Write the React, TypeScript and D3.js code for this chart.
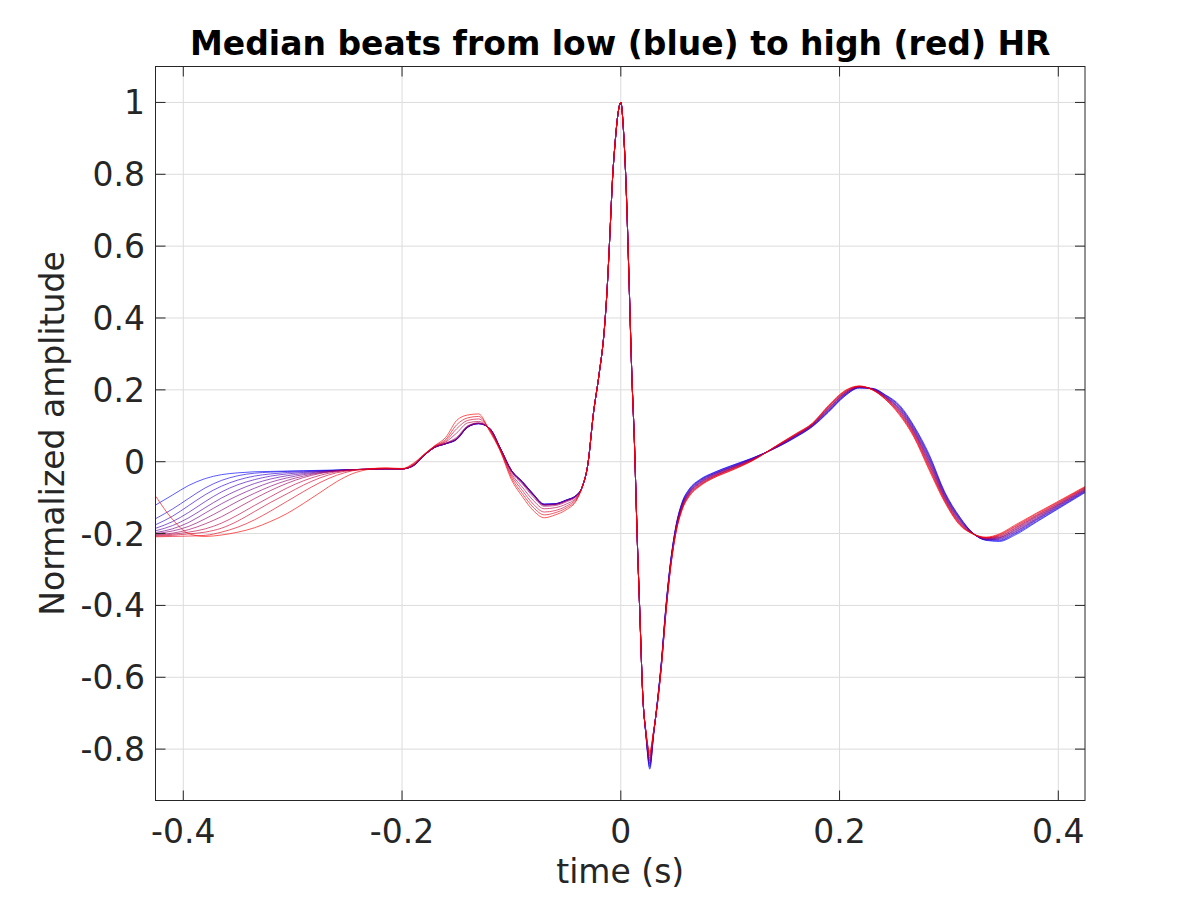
import React, { useEffect, useRef } from "react";
import * as d3 from "d3";

// time grid (s) of each part of the beat
const leadTimes = [-0.425, -0.41, -0.395, -0.38, -0.365, -0.35, -0.335, -0.32, -0.305, -0.29, -0.275, -0.26, -0.245, -0.23, -0.215, -0.2];
const pTimes = [-0.19, -0.18, -0.17, -0.16, -0.15, -0.14, -0.13, -0.12, -0.11, -0.1, -0.09, -0.08, -0.07, -0.06, -0.05, -0.04];
const qrsTimes = [-0.035, -0.03, -0.025, -0.02, -0.015, -0.0125, -0.01, -0.0075, -0.005, -0.0025, 0, 0.0025, 0.005, 0.0075, 0.01, 0.0125, 0.015, 0.0175, 0.02];
const sTimes = [0.023, 0.0265, 0.03];
const tailTimes = [0.0335, 0.037, 0.041, 0.045, 0.05, 0.056, 0.0625, 0.072, 0.085, 0.1, 0.12, 0.145, 0.16, 0.175, 0.19, 0.205, 0.218, 0.23, 0.242, 0.255, 0.268, 0.282, 0.296, 0.31, 0.322, 0.334, 0.346, 0.36, 0.38, 0.4, 0.425];

// one row per HR bin, low HR (blue) first, high HR (red) last
const leadBeats = [
  [-0.120, -0.093, -0.066, -0.047, -0.036, -0.031, -0.028, -0.027, -0.026, -0.025, -0.024, -0.023, -0.022, -0.021, -0.020, -0.020],
  [-0.158, -0.132, -0.102, -0.073, -0.052, -0.039, -0.032, -0.029, -0.027, -0.026, -0.025, -0.024, -0.022, -0.021, -0.020, -0.020],
  [-0.175, -0.152, -0.122, -0.092, -0.068, -0.051, -0.040, -0.034, -0.030, -0.028, -0.026, -0.024, -0.022, -0.021, -0.020, -0.020],
  [-0.185, -0.167, -0.141, -0.111, -0.084, -0.064, -0.050, -0.040, -0.034, -0.030, -0.027, -0.024, -0.022, -0.021, -0.020, -0.020],
  [-0.192, -0.178, -0.156, -0.128, -0.101, -0.079, -0.061, -0.048, -0.039, -0.033, -0.028, -0.025, -0.022, -0.021, -0.020, -0.020],
  [-0.197, -0.187, -0.169, -0.143, -0.117, -0.094, -0.074, -0.057, -0.045, -0.036, -0.030, -0.025, -0.022, -0.021, -0.020, -0.020],
  [-0.200, -0.193, -0.180, -0.159, -0.135, -0.110, -0.088, -0.068, -0.052, -0.040, -0.031, -0.026, -0.022, -0.021, -0.020, -0.020],
  [-0.203, -0.199, -0.189, -0.173, -0.153, -0.128, -0.103, -0.080, -0.060, -0.044, -0.033, -0.026, -0.022, -0.021, -0.020, -0.020],
  [-0.205, -0.202, -0.196, -0.187, -0.171, -0.148, -0.122, -0.097, -0.073, -0.053, -0.038, -0.028, -0.023, -0.021, -0.020, -0.020],
  [-0.207, -0.205, -0.201, -0.196, -0.185, -0.165, -0.139, -0.113, -0.089, -0.065, -0.045, -0.031, -0.024, -0.021, -0.019, -0.020],
  [-0.209, -0.208, -0.207, -0.205, -0.196, -0.182, -0.162, -0.137, -0.110, -0.083, -0.058, -0.038, -0.025, -0.019, -0.018, -0.020],
  [-0.097, -0.160, -0.200, -0.208, -0.204, -0.196, -0.184, -0.166, -0.144, -0.116, -0.086, -0.056, -0.033, -0.021, -0.017, -0.019],
];

const pBeats = [
  [-0.012, 0.017, 0.040, 0.050, 0.062, 0.096, 0.106, 0.093, 0.037, -0.024, -0.055, -0.090, -0.118, -0.117, -0.107, -0.092],
  [-0.012, 0.017, 0.040, 0.050, 0.062, 0.096, 0.106, 0.093, 0.037, -0.024, -0.055, -0.090, -0.118, -0.117, -0.107, -0.092],
  [-0.012, 0.017, 0.040, 0.050, 0.062, 0.096, 0.106, 0.093, 0.037, -0.024, -0.056, -0.091, -0.119, -0.117, -0.107, -0.092],
  [-0.012, 0.017, 0.040, 0.050, 0.063, 0.097, 0.106, 0.093, 0.036, -0.025, -0.057, -0.092, -0.119, -0.118, -0.108, -0.092],
  [-0.012, 0.017, 0.040, 0.050, 0.063, 0.097, 0.106, 0.093, 0.036, -0.025, -0.057, -0.092, -0.120, -0.118, -0.108, -0.093],
  [-0.011, 0.017, 0.040, 0.051, 0.064, 0.098, 0.107, 0.093, 0.036, -0.026, -0.058, -0.093, -0.120, -0.119, -0.109, -0.093],
  [-0.011, 0.018, 0.041, 0.051, 0.065, 0.098, 0.107, 0.092, 0.035, -0.026, -0.059, -0.094, -0.121, -0.119, -0.109, -0.094],
  [-0.011, 0.018, 0.041, 0.052, 0.068, 0.100, 0.108, 0.092, 0.035, -0.028, -0.062, -0.098, -0.124, -0.122, -0.112, -0.095],
  [-0.010, 0.018, 0.042, 0.055, 0.080, 0.108, 0.112, 0.090, 0.033, -0.033, -0.071, -0.108, -0.131, -0.128, -0.118, -0.098],
  [-0.009, 0.019, 0.043, 0.058, 0.092, 0.115, 0.119, 0.089, 0.031, -0.038, -0.080, -0.118, -0.140, -0.136, -0.124, -0.100],
  [-0.007, 0.020, 0.044, 0.062, 0.103, 0.122, 0.126, 0.088, 0.030, -0.044, -0.089, -0.127, -0.148, -0.142, -0.129, -0.103],
  [-0.005, 0.020, 0.045, 0.068, 0.115, 0.130, 0.133, 0.085, 0.028, -0.050, -0.097, -0.136, -0.156, -0.148, -0.134, -0.105],
];

// R wave is the same for every bin (normalised to the peak)
const qrsValues = [-0.068, -0.005, 0.135, 0.24, 0.37, 0.48, 0.63, 0.79, 0.895, 0.97, 1.0, 0.92, 0.755, 0.51, 0.25, 0.05, -0.21, -0.43, -0.645];

const sBeats = [
  [-0.762, -0.856, -0.760],
  [-0.761, -0.851, -0.759],
  [-0.760, -0.847, -0.758],
  [-0.759, -0.842, -0.757],
  [-0.758, -0.838, -0.756],
  [-0.757, -0.833, -0.755],
  [-0.756, -0.829, -0.754],
  [-0.755, -0.824, -0.753],
  [-0.754, -0.819, -0.752],
  [-0.753, -0.815, -0.751],
  [-0.752, -0.810, -0.750],
  [-0.751, -0.806, -0.749],
];

const tailBeats = [
  [-0.665, -0.560, -0.410, -0.290, -0.185, -0.113, -0.076, -0.050, -0.030, -0.012, 0.010, 0.043, 0.068, 0.097, 0.138, 0.183, 0.205, 0.204, 0.186, 0.157, 0.100, 0.020, -0.083, -0.154, -0.199, -0.219, -0.222, -0.205, -0.168, -0.131, -0.085],
  [-0.666, -0.561, -0.412, -0.292, -0.187, -0.115, -0.078, -0.052, -0.031, -0.013, 0.009, 0.044, 0.069, 0.098, 0.140, 0.184, 0.206, 0.204, 0.185, 0.154, 0.097, 0.016, -0.086, -0.156, -0.199, -0.218, -0.220, -0.202, -0.166, -0.129, -0.083],
  [-0.667, -0.563, -0.414, -0.294, -0.189, -0.117, -0.080, -0.053, -0.033, -0.015, 0.009, 0.044, 0.070, 0.099, 0.141, 0.186, 0.206, 0.203, 0.184, 0.152, 0.094, 0.012, -0.088, -0.158, -0.199, -0.217, -0.218, -0.200, -0.163, -0.127, -0.082],
  [-0.668, -0.564, -0.415, -0.295, -0.190, -0.119, -0.082, -0.055, -0.034, -0.016, 0.008, 0.045, 0.071, 0.100, 0.143, 0.187, 0.207, 0.203, 0.182, 0.149, 0.091, 0.008, -0.091, -0.160, -0.200, -0.217, -0.216, -0.197, -0.161, -0.125, -0.080],
  [-0.669, -0.565, -0.417, -0.297, -0.192, -0.121, -0.084, -0.057, -0.035, -0.017, 0.007, 0.046, 0.072, 0.101, 0.145, 0.188, 0.207, 0.203, 0.181, 0.147, 0.088, 0.004, -0.094, -0.162, -0.200, -0.216, -0.214, -0.195, -0.159, -0.123, -0.079],
  [-0.670, -0.567, -0.419, -0.299, -0.194, -0.123, -0.086, -0.059, -0.037, -0.018, 0.006, 0.046, 0.073, 0.102, 0.147, 0.190, 0.208, 0.202, 0.180, 0.144, 0.085, 0.000, -0.096, -0.164, -0.200, -0.215, -0.212, -0.192, -0.157, -0.121, -0.077],
  [-0.670, -0.568, -0.421, -0.301, -0.196, -0.125, -0.087, -0.060, -0.038, -0.020, 0.006, 0.047, 0.073, 0.102, 0.148, 0.191, 0.208, 0.202, 0.179, 0.142, 0.083, -0.004, -0.099, -0.167, -0.200, -0.214, -0.211, -0.190, -0.154, -0.120, -0.076],
  [-0.671, -0.570, -0.423, -0.303, -0.198, -0.127, -0.089, -0.062, -0.040, -0.021, 0.005, 0.047, 0.074, 0.103, 0.150, 0.192, 0.209, 0.201, 0.178, 0.139, 0.080, -0.008, -0.101, -0.169, -0.200, -0.213, -0.209, -0.187, -0.152, -0.118, -0.074],
  [-0.672, -0.571, -0.425, -0.305, -0.200, -0.129, -0.091, -0.064, -0.041, -0.022, 0.004, 0.048, 0.075, 0.104, 0.152, 0.194, 0.209, 0.201, 0.177, 0.137, 0.077, -0.012, -0.104, -0.171, -0.201, -0.212, -0.207, -0.185, -0.150, -0.116, -0.073],
  [-0.673, -0.572, -0.426, -0.306, -0.201, -0.131, -0.093, -0.066, -0.042, -0.023, 0.003, 0.049, 0.076, 0.105, 0.154, 0.195, 0.210, 0.201, 0.175, 0.134, 0.074, -0.016, -0.107, -0.173, -0.201, -0.212, -0.205, -0.182, -0.148, -0.114, -0.071],
  [-0.674, -0.574, -0.428, -0.308, -0.203, -0.133, -0.095, -0.067, -0.044, -0.025, 0.003, 0.049, 0.077, 0.106, 0.155, 0.197, 0.210, 0.200, 0.174, 0.132, 0.071, -0.020, -0.109, -0.175, -0.201, -0.211, -0.203, -0.180, -0.145, -0.112, -0.070],
  [-0.675, -0.575, -0.430, -0.310, -0.205, -0.135, -0.097, -0.069, -0.045, -0.026, 0.002, 0.050, 0.078, 0.107, 0.157, 0.198, 0.211, 0.200, 0.173, 0.129, 0.068, -0.024, -0.112, -0.177, -0.201, -0.210, -0.201, -0.177, -0.143, -0.110, -0.068],
];

const xTicks = [-0.4, -0.2, 0, 0.2, 0.4];
const yTicks = [-0.8, -0.6, -0.4, -0.2, 0, 0.2, 0.4, 0.6, 0.8, 1];

function App() {
  const ref = useRef(null);

  useEffect(() => {
    const width = 1200;
    const height = 900;
    const left = 155.5;
    const right = 1085;
    const top = 66.5;
    const bottom = 800.5;
    const ink = "#262626";
    const font = "DejaVu Sans, sans-serif";

    d3.select(ref.current).select("svg").remove();

    const svg = d3
      .select(ref.current)
      .append("svg")
      .attr("width", width)
      .attr("height", height)
      .style("position", "absolute")
      .style("left", 0)
      .style("top", 0)
      .style("background", "#fff")
      .style("font-family", font);

    const x = d3.scaleLinear().domain([-0.4254, 0.4244]).range([left, right]);
    const y = d3.scaleLinear().domain([-0.943, 1.1]).range([bottom, top]);
    const fmt = (v) => String(+v.toFixed(1));

    // grid
    svg
      .selectAll("line.gx")
      .data(xTicks)
      .enter()
      .append("line")
      .attr("x1", (d) => x(d))
      .attr("x2", (d) => x(d))
      .attr("y1", top)
      .attr("y2", bottom)
      .attr("stroke", "#dcdcdc")
      .attr("stroke-width", 1);
    svg
      .selectAll("line.gy")
      .data(yTicks)
      .enter()
      .append("line")
      .attr("x1", left)
      .attr("x2", right)
      .attr("y1", (d) => y(d))
      .attr("y2", (d) => y(d))
      .attr("stroke", "#dcdcdc")
      .attr("stroke-width", 1);

    // beats
    svg
      .append("clipPath")
      .attr("id", "plot-clip")
      .append("rect")
      .attr("x", left)
      .attr("y", top)
      .attr("width", right - left)
      .attr("height", bottom - top);

    const beats = leadBeats.map((_, k) => [
      ...leadTimes.map((t, i) => [t, leadBeats[k][i]]),
      ...pTimes.map((t, i) => [t, pBeats[k][i]]),
      ...qrsTimes.map((t, i) => [t, qrsValues[i]]),
      ...sTimes.map((t, i) => [t, sBeats[k][i]]),
      ...tailTimes.map((t, i) => [t, tailBeats[k][i]]),
    ]);

    const color = d3.interpolateRgb("rgb(0,0,255)", "rgb(255,0,0)");
    const line = d3
      .line()
      .x((d) => x(d[0]))
      .y((d) => y(d[1]))
      .curve(d3.curveMonotoneX);

    svg
      .append("g")
      .attr("clip-path", "url(#plot-clip)")
      .selectAll("path")
      .data(beats)
      .enter()
      .append("path")
      .attr("d", line)
      .attr("fill", "none")
      .attr("stroke", (d, k) => color(k / (beats.length - 1)))
      .attr("stroke-width", 0.65);

    // box and ticks
    svg
      .append("rect")
      .attr("x", left)
      .attr("y", top)
      .attr("width", right - left)
      .attr("height", bottom - top)
      .attr("fill", "none")
      .attr("stroke", ink)
      .attr("stroke-width", 1);

    const tickLen = 10;
    xTicks.forEach((t) => {
      [
        [bottom, bottom - tickLen],
        [top, top + tickLen],
      ].forEach(([a, b]) =>
        svg.append("line").attr("x1", x(t)).attr("x2", x(t)).attr("y1", a).attr("y2", b).attr("stroke", ink)
      );
      svg
        .append("text")
        .attr("x", x(t))
        .attr("y", 843)
        .attr("text-anchor", "middle")
        .attr("fill", ink)
        .style("font-size", "33px")
        .text(fmt(t));
    });
    yTicks.forEach((v) => {
      [
        [left, left + tickLen],
        [right, right - tickLen],
      ].forEach(([a, b]) =>
        svg.append("line").attr("x1", a).attr("x2", b).attr("y1", y(v)).attr("y2", y(v)).attr("stroke", ink)
      );
      svg
        .append("text")
        .attr("x", 145)
        .attr("y", y(v) + 12)
        .attr("text-anchor", "end")
        .attr("fill", ink)
        .style("font-size", "33px")
        .text(fmt(v));
    });

    // labels
    svg
      .append("text")
      .attr("x", (left + right) / 2)
      .attr("y", 883)
      .attr("text-anchor", "middle")
      .attr("fill", ink)
      .style("font-size", "33px")
      .text("time (s)");
    svg
      .append("text")
      .attr("transform", `translate(64, ${(top + bottom) / 2}) rotate(-90)`)
      .attr("text-anchor", "middle")
      .attr("fill", ink)
      .style("font-size", "33px")
      .text("Normalized amplitude");
    svg
      .append("text")
      .attr("x", (left + right) / 2)
      .attr("y", 55)
      .attr("text-anchor", "middle")
      .attr("fill", "#000")
      .style("font-size", "33px")
      .style("font-weight", "bold")
      .text("Median beats from low (blue) to high (red) HR");
  }, []);

  return <div ref={ref}></div>;
}

export default App;
